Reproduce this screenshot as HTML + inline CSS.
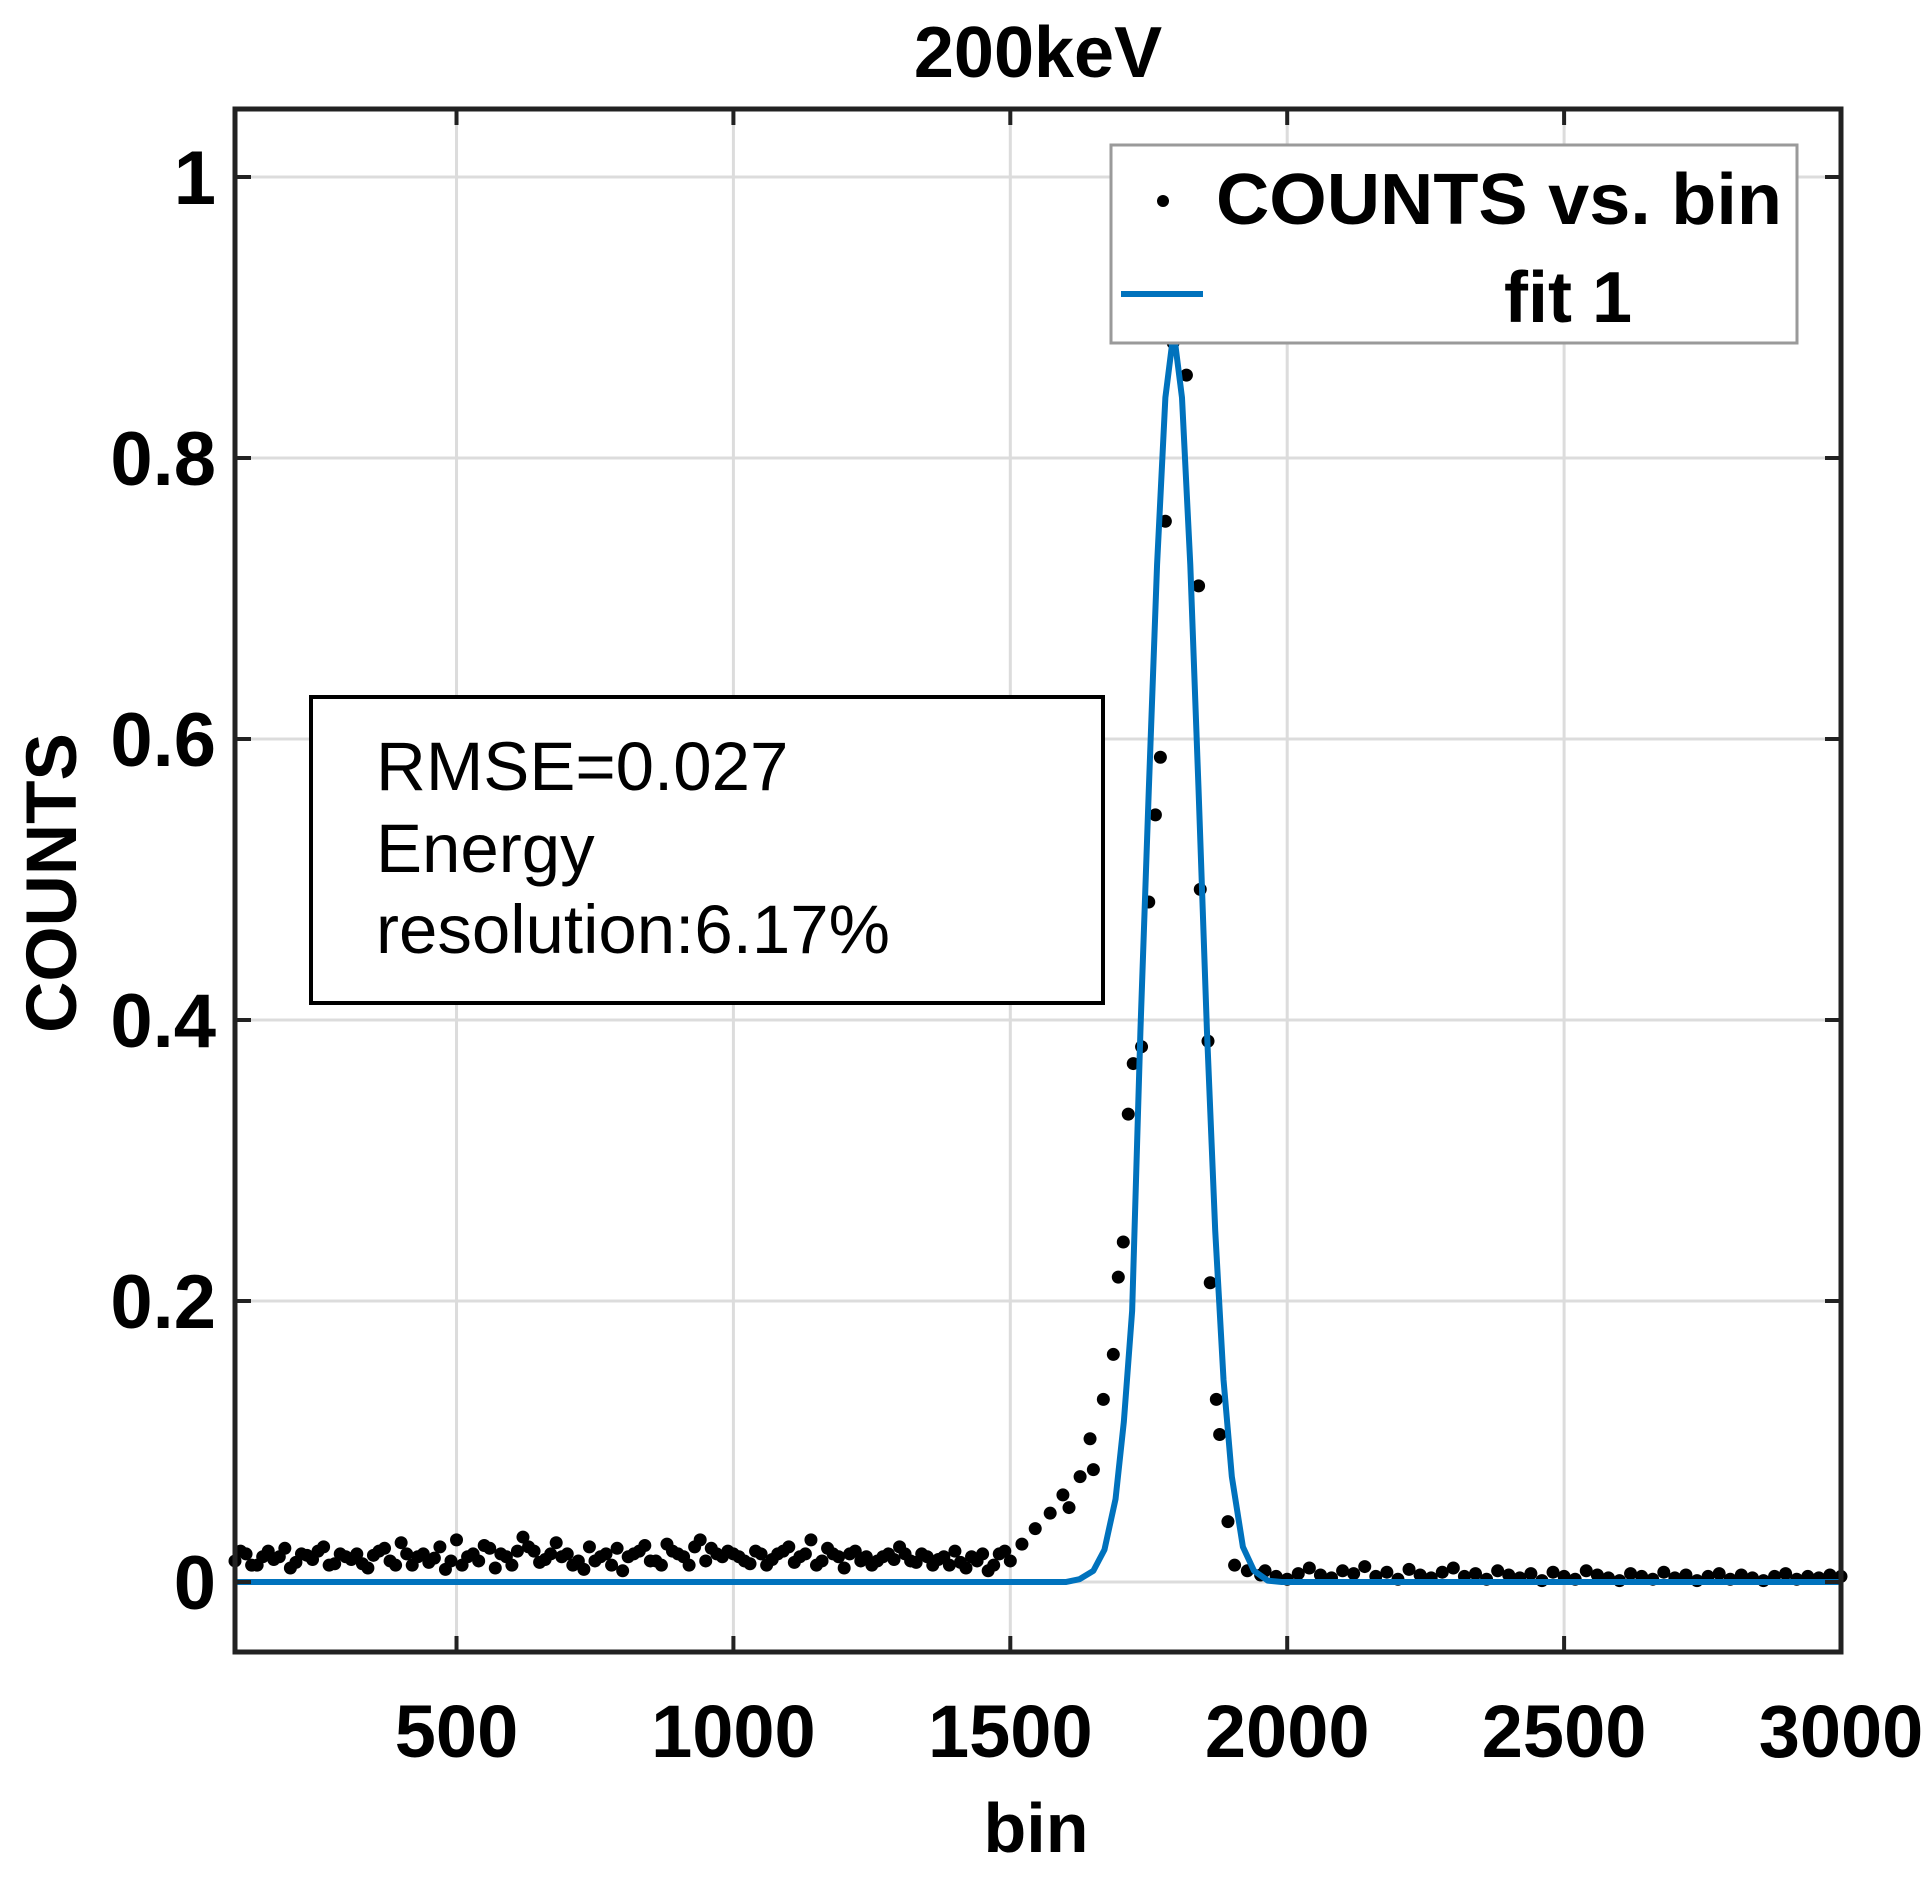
<!DOCTYPE html>
<html><head><meta charset="utf-8"><style>
html,body{margin:0;padding:0;background:#fff;}
svg{display:block;font-family:"Liberation Sans",sans-serif;}
</style></head><body>
<svg id="chart" width="1931" height="1877" viewBox="0 0 1931 1877">
<rect x="0" y="0" width="1931" height="1877" fill="#fff"/>
<g id="grid"></g>
<g id="series"></g>
<g id="axes"></g>
<text x="1038" y="77" font-size="72" font-weight="bold" text-anchor="middle">200keV</text>
<text x="1036" y="1852" font-size="70" font-weight="bold" text-anchor="middle">bin</text>
<text transform="translate(76,883) rotate(-90)" font-size="71" font-weight="bold" text-anchor="middle">COUNTS</text>
<g>
<rect x="311" y="697" width="792" height="306" fill="#fff" stroke="#000" stroke-width="4"/>
<text x="376" y="790" font-size="69">RMSE=0.027</text>
<text x="376" y="872" font-size="69">Energy</text>
<text x="376" y="953" font-size="69">resolution:6.17%</text>
</g>
<g>
<rect x="1111" y="145" width="686" height="198" fill="#fff" stroke="#9a9a9a" stroke-width="3"/>
<circle cx="1163" cy="201" r="6" fill="#000"/>
<text x="1216" y="224" font-size="72" font-weight="bold" textLength="566" lengthAdjust="spacingAndGlyphs">COUNTS vs. bin</text>
<line x1="1121" y1="294" x2="1203" y2="294" stroke="#0072BD" stroke-width="6"/>
<text x="1504" y="322" font-size="72" font-weight="bold">fit 1</text>
</g>
</svg>
<script>
const xTicks=[500,1000,1500,2000,2500,3000];
const yTicks=[0,0.2,0.4,0.6,0.8,1];
const yTickLabels=["0","0.2","0.4","0.6","0.8","1"];
const bgLeftX=[100,120,140,160,180,200,220,240,260,280,300,320,340,360,380,400,420,440,460,480,500,520,540,560,580,600,620,640,660,680,700,720,740,760,780,800,820,840,860,880,900,920,940,960,980,1000,1020,1040,1060,1080,1100,1120,1140,1160,1180,1200,1220,1240,1260,1280,1300,1320,1340,1360,1380,1400,1420,1440,1460,1480,1500];
const bgLeftY=[.015,.02,.012,.022,.018,.01,.02,.016,.025,.013,.018,.02,.01,.022,.015,.028,.012,.02,.017,.009,.03,.018,.015,.024,.02,.012,.032,.022,.016,.028,.02,.015,.025,.018,.012,.008,.02,.026,.015,.027,.02,.012,.03,.024,.018,.02,.015,.022,.012,.02,.025,.018,.03,.015,.02,.01,.022,.018,.015,.02,.025,.015,.02,.012,.018,.022,.01,.015,.008,.02,.015];
const bgLeft2X=[110,130,150,170,190,210,230,250,270,290,310,330,350,370,390,410,430,450,470,490,510,530,550,570,590,610,630,650,670,690,710,730,750,770,790,810,830,850,870,890,910,930,950,970,990,1010,1030,1050,1070,1090,1110,1130,1150,1170,1190,1210,1230,1250,1270,1290,1310,1330,1350,1370,1390,1410,1430,1450,1470,1490];
const bgLeft2Y=[.022,.012,.018,.016,.024,.014,.019,.022,.012,.02,.016,.013,.019,.024,.012,.02,.018,.014,.025,.015,.012,.02,.026,.01,.018,.022,.025,.014,.02,.018,.012,.009,.015,.02,.024,.018,.022,.015,.012,.022,.018,.025,.015,.02,.022,.018,.013,.02,.016,.022,.014,.02,.012,.024,.018,.02,.015,.012,.018,.016,.02,.014,.018,.016,.012,.014,.018,.02,.012,.022];
const peakX=[1521,1545,1572,1595,1606,1626,1644,1650,1668,1686,1695,1704,1713,1722,1737,1750,1762,1771,1780,1794,1818,1840,1843,1857,1861,1872,1878,1893,1905,1928,1952];
const peakY=[.027,.038,.049,.062,.053,.075,.102,.08,.13,.162,.217,.242,.333,.369,.381,.484,.546,.587,.755,.882,.859,.709,.493,.385,.213,.13,.105,.043,.012,.008,.005];
const bgRightX=[1960,1980,2000,2020,2040,2060,2080,2100,2120,2140,2160,2180,2200,2220,2240,2260,2280,2300,2320,2340,2360,2380,2400,2420,2440,2460,2480,2500,2520,2540,2560,2580,2600,2620,2640,2660,2680,2700,2720,2740,2760,2780,2800,2820,2840,2860,2880,2900,2920,2940,2960,2980,3000];
const bgRightY=[.008,.004,.002,.006,.01,.005,.003,.008,.006,.011,.004,.007,.002,.009,.005,.003,.007,.01,.004,.006,.002,.008,.005,.003,.006,.001,.007,.004,.002,.008,.005,.003,.001,.006,.004,.002,.007,.003,.005,.001,.004,.006,.002,.005,.003,.001,.004,.006,.002,.004,.003,.005,.004];
const fitX=[100,1600,1625,1650,1670,1690,1705,1720,1735,1750,1765,1780,1795,1810,1825,1840,1855,1870,1885,1900,1920,1940,1965,1990,3000];
const fitY=[0,0,.002,.008,.023,.059,.114,.193,.393,.563,.724,.843,.89,.843,.724,.563,.393,.250,.144,.075,.025,.008,.001,0,0];

const L=235,R=1841,T=109,B=1652;
const xMin=100,xMax=3000,yMin=-0.0498,yMax=1.0484;
const xs=v=>L+(v-xMin)/(xMax-xMin)*(R-L);
const ys=v=>B-(v-yMin)/(yMax-yMin)*(B-T);
const NS="http://www.w3.org/2000/svg";
function mk(tag,parent,attrs){const e=document.createElementNS(NS,tag);for(const k in attrs)e.setAttribute(k,attrs[k]);parent.appendChild(e);return e;}
const grid=document.getElementById('grid'),axes=document.getElementById('axes'),series=document.getElementById('series');

xTicks.forEach(t=>{
  const g=mk('line',grid,{x1:xs(t),x2:xs(t),y1:T,y2:B,stroke:'#dcdcdc','stroke-width':3});
  
  
  const tk=mk('path',axes,{d:`M${xs(t)},${B}v-16M${xs(t)},${T}v16`,stroke:'#222','stroke-width':4});
  
  
  const lb=mk('text',axes,{x:xs(t),y:1757,'font-size':74,'font-weight':'bold','text-anchor':'middle'});
  lb.textContent=t;
  
  
});
yTicks.forEach((t,i)=>{
  const g=mk('line',grid,{x1:L,x2:R,y1:ys(t),y2:ys(t),stroke:'#dcdcdc','stroke-width':3});
  
  
  const tk=mk('path',axes,{d:`M${L},${ys(t)}h16M${R},${ys(t)}h-16`,stroke:'#222','stroke-width':4});
  
  
  const lb=mk('text',axes,{x:216,y:ys(t)+27,'font-size':76,'font-weight':'bold','text-anchor':'end'});
  lb.textContent=yTickLabels[i];
  
  
});
const fr=mk('rect',axes,{x:L,y:T,width:R-L,height:B-T,fill:'none',stroke:'#222','stroke-width':5});



function dots(X,Y){X.forEach((x,i)=>{
  const c=mk('circle',series,{cx:xs(x),cy:ys(Y[i]),r:6.5,fill:'#000'});
  
  
});}
dots(bgLeftX,bgLeftY);dots(bgLeft2X,bgLeft2Y);dots(peakX,peakY);dots(bgRightX,bgRightY);

const d='M'+fitX.map((x,i)=>xs(x)+','+ys(fitY[i])).join(' L');
const fit=mk('path',series,{d:d,fill:'none',stroke:'#0072BD','stroke-width':6,'stroke-linejoin':'round'});


</script>
</body></html>
